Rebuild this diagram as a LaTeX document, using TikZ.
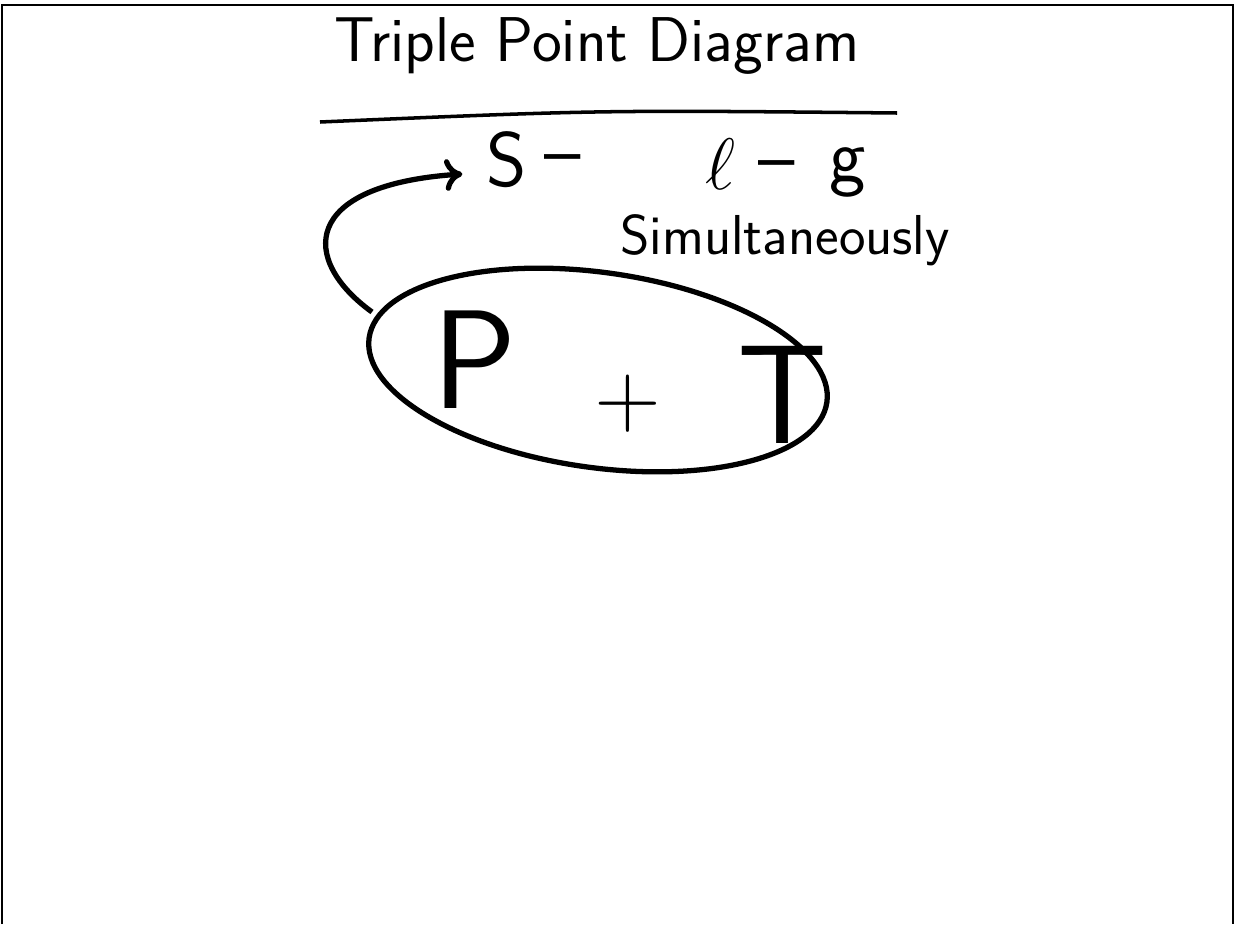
\documentclass[tikz,border=0pt]{standalone}
\usepackage{amsmath}
\usepackage{tikz}
\usetikzlibrary{shapes.geometric, arrows.meta, calc}
\usepackage{xcolor}

\begin{document}
\begin{tikzpicture}[x=0.01cm, y=-0.01cm, every node/.style={font=\sffamily}]
        \useasboundingbox (0,0) rectangle (1237,924);
        \draw[line width=0.6pt] (2,924) -- (2,5) -- (1233,5) -- (1233,924);
        \node (title) at (597,46) {\fontsize{18}{22}\selectfont Triple Point Diagram};
        \draw[line width=1pt] (320,122) .. controls (600,110) .. (897,113);
        \node (s) at (507,160) {\fontsize{22}{26}\selectfont S};
        \node (d1) at (563,166) {\fontsize{22}{26}\selectfont --};
        \node (l) at (720,164) {\fontsize{22}{26}\selectfont $\ell$};
        \node (d2) at (777,172) {\fontsize{22}{26}\selectfont --};
        \node (g) at (848,172) {\fontsize{22}{26}\selectfont g};
        \node (simul) at (785,240) {\fontsize{16}{20}\selectfont Simultaneously};
        \node[draw, ellipse, line width=1.5pt, minimum width=4.62cm, minimum height=1.95cm,
              inner sep=0pt, rotate=-8] (pt) at (598,370) {};
        \node (p) at (475,360) {\fontsize{40}{44}\selectfont P};
        \node (plus) at (628,404) {\fontsize{26}{30}\selectfont +};
        \node (t) at (783,395) {\fontsize{40}{44}\selectfont T};
        \coordinate (a0) at (372,312);
        \draw[-{To[length=5pt,width=9pt]}, line width=1.5pt] (a0) .. controls (300,260) and (300,185) .. ($(s.west)+(-12,14)$);
    \end{tikzpicture}
\end{document}
